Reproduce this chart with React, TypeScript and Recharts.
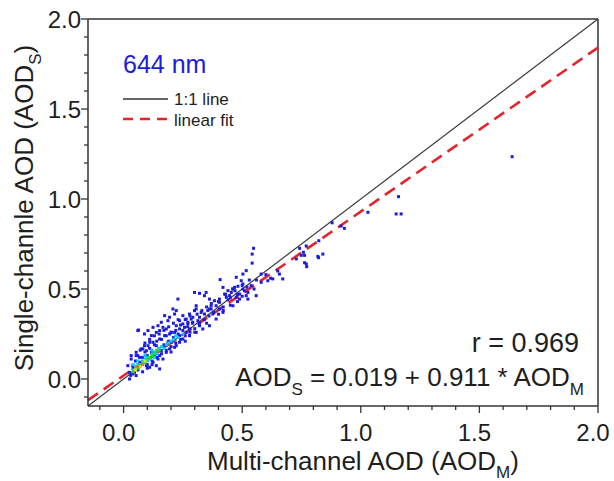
import { ScatterChart, Scatter, XAxis, YAxis, ReferenceLine, Customized } from "recharts";

const FONT = "'Liberation Sans', Arial, sans-serif";
const INK = "#1e1e1e";
const AXIS = "#333";
const BLUE = "#1c1cdc";
const RED = "#e5232c";

const domainMin = -0.15;
const domainMax = 2.0;
const axisTicks = [
  -0.1, 0, 0.1, 0.2, 0.3, 0.4, 0.5, 0.6, 0.7, 0.8, 0.9, 1.0, 1.1, 1.2, 1.3, 1.4, 1.5, 1.6, 1.7, 1.8, 1.9, 2.0,
];
const majorTicks = [0, 0.5, 1.0, 1.5, 2.0];

// fit from the figure: AOD_S = 0.019 + 0.911 * AOD_M
const fitIntercept = 0.019;
const fitSlope = 0.911;
const corrR = 0.969;

// scatter points, [AOD_M, AOD_S]
const bluePoints = [
  [1.638, 1.235], [1.159, 1.013], [1.149, 0.917], [1.17, 0.917], [1.03, 0.926], [0.879, 0.868],
  [0.917, 0.85], [0.931, 0.837], [0.823, 0.768], [0.77, 0.739], [0.749, 0.687], [0.763, 0.687],
  [0.822, 0.674], [0.84, 0.694], [0.763, 0.646], [0.772, 0.624], [0.742, 0.726],
  [0.548, 0.726], [0.542, 0.694], [0.542, 0.644], [0.758, 0.704], [0.819, 0.681], [0.77, 0.639],
  [0.728, 0.667], [0.657, 0.583], [0.671, 0.556], [0.629, 0.556], [0.608, 0.546], [0.58, 0.583],
  [0.517, 0.602], [0.503, 0.583], [0.475, 0.565], [0.496, 0.546], [0.419, 0.509], [0.44, 0.491],
  [0.461, 0.5], [0.482, 0.515], [0.503, 0.5], [0.524, 0.481], [0.447, 0.463], [0.475, 0.454],
  [0.517, 0.463], [0.538, 0.519], [0.433, 0.454], [0.489, 0.472], [0.348, 0.481], [0.341, 0.463],
  [0.32, 0.476], [0.39, 0.407], [0.369, 0.389], [0.376, 0.361], [0.404, 0.389], [0.306, 0.407],
  [0.299, 0.38], [0.278, 0.361], [0.327, 0.37], [0.292, 0.343], [0.264, 0.333], [0.236, 0.324],
  [0.25, 0.306], [0.222, 0.296], [0.299, 0.481], [0.229, 0.444], [0.208, 0.389], [0.215, 0.361],
  [0.194, 0.343], [0.173, 0.352], [0.187, 0.324], [0.159, 0.315], [0.145, 0.296], [0.166, 0.287],
  [0.18, 0.278], [0.152, 0.269], [0.124, 0.287], [0.138, 0.259], [0.117, 0.241], [0.103, 0.269],
  [0.088, 0.25], [0.06, 0.269], [0.236, 0.241], [0.264, 0.259], [0.222, 0.185], [0.18, 0.148],
  [0.152, 0.13], [0.124, 0.093], [0.278, 0.278], [0.25, 0.222], [0.201, 0.204], [0.292, 0.315],
  [0.313, 0.324], [0.039, 0.074], [0.046, 0.037], [0.053, 0.019], [0.032, 0.13], [0.053, 0.148],
  [0.067, 0.12], [0.081, 0.093], [0.096, 0.074], [0.11, 0.065], [0.025, 0.037], [0.06, 0.056],
  [0.074, 0.167], [0.096, 0.157], [0.117, 0.148], [0.131, 0.13], [0.145, 0.111], [0.159, 0.157],
  [0.173, 0.185], [0.187, 0.204], [0.138, 0.185], [0.11, 0.204], [0.088, 0.185], [0.152, 0.222],
  [0.173, 0.241], [0.194, 0.25], [0.215, 0.259], [0.236, 0.278], [0.257, 0.287], [0.271, 0.306],
  [0.285, 0.333], [0.32, 0.343], [0.341, 0.361], [0.355, 0.38], [0.369, 0.407], [0.383, 0.435],
  [0.404, 0.444], [0.426, 0.472], [0.454, 0.481], [0.468, 0.509], [0.503, 0.528], [0.306, 0.259],
  [0.334, 0.278], [0.362, 0.296], [0.236, 0.204], [0.215, 0.176], [0.278, 0.241], [0.32, 0.296],
  [0.39, 0.333], [0.419, 0.37], [0.461, 0.407], [0.489, 0.444], [0.524, 0.444], [0.559, 0.463],
  [0.58, 0.537], [0.063, 0.272], [0.222, 0.38], [0.407, 0.552], [0.362, 0.444], [0.306, 0.389],
  [0.25, 0.352], [0.025, 0.0], [0.039, 0.028], [0.018, 0.074], [0.032, 0.111], [0.053, 0.13],
  [0.081, 0.167], [0.103, 0.185], [0.124, 0.204], [0.067, 0.093], [0.096, 0.111], [0.046, 0.056],
  [0.201, 0.259], [0.271, 0.315], [0.362, 0.389], [0.404, 0.426], [0.138, 0.074], [0.166, 0.111],
  [0.194, 0.167], [0.278, 0.241], [0.152, 0.056], [0.03, 0.02], [0.04, 0.06], [0.05, 0.1],
  [0.06, 0.05], [0.06, 0.13], [0.07, 0.16], [0.08, 0.12], [0.09, 0.15], [0.09, 0.2], [0.1, 0.08],
  [0.1, 0.13], [0.11, 0.17], [0.11, 0.22], [0.12, 0.1], [0.12, 0.15], [0.13, 0.19], [0.13, 0.24],
  [0.14, 0.12], [0.14, 0.21], [0.15, 0.17], [0.15, 0.25], [0.16, 0.14], [0.16, 0.22], [0.17, 0.19],
  [0.17, 0.27], [0.18, 0.16], [0.18, 0.24], [0.19, 0.21], [0.19, 0.29], [0.2, 0.18], [0.2, 0.26],
  [0.21, 0.23], [0.21, 0.31], [0.22, 0.2], [0.22, 0.27], [0.23, 0.25], [0.23, 0.33], [0.24, 0.22],
  [0.24, 0.3], [0.25, 0.27], [0.26, 0.24], [0.26, 0.33], [0.27, 0.29], [0.28, 0.26], [0.28, 0.35],
  [0.29, 0.31], [0.3, 0.28], [0.31, 0.36], [0.32, 0.31], [0.33, 0.38], [0.34, 0.33], [0.35, 0.4],
  [0.36, 0.35], [0.37, 0.42], [0.38, 0.37], [0.4, 0.43], [0.42, 0.4], [0.43, 0.47], [0.45, 0.45],
  [0.46, 0.5], [0.48, 0.47], [0.5, 0.52], [0.51, 0.49], [0.53, 0.55],
  [0.3, 0.26], [0.35, 0.31], [0.4, 0.36], [0.45, 0.41], [0.5, 0.46], [0.55, 0.5], [0.62, 0.56],
  [0.48, 0.43], [0.42, 0.38], [0.26, 0.21], [0.2, 0.15], [0.1, 0.06], [0.08, 0.04], [0.12, 0.08],
  [0.44, 0.44], [0.47, 0.49], [0.52, 0.51], [0.56, 0.55], [0.6, 0.58], [0.65, 0.6],
];

const cyanPoints = [
  [0.04, 0.05], [0.05, 0.07], [0.06, 0.08], [0.07, 0.07], [0.08, 0.1], [0.09, 0.11], [0.1, 0.12],
  [0.11, 0.11], [0.12, 0.14], [0.13, 0.15], [0.14, 0.14], [0.15, 0.17], [0.16, 0.18], [0.18, 0.19],
  [0.19, 0.2], [0.21, 0.22], [0.23, 0.23], [0.25, 0.25], [0.06, 0.1], [0.09, 0.13], [0.12, 0.16],
  [0.04, 0.08], [0.17, 0.17], [0.2, 0.21], [0.22, 0.24], [0.13, 0.12], [0.1, 0.1],
];
const greenPoints = [
  [0.04, 0.04], [0.05, 0.06], [0.06, 0.06], [0.07, 0.08], [0.08, 0.09], [0.09, 0.09], [0.1, 0.11],
  [0.11, 0.12], [0.12, 0.13], [0.14, 0.16], [0.13, 0.14], [0.15, 0.16],
];
const yellowPoints = [[0.05, 0.05], [0.07, 0.07], [0.09, 0.1]];
const orangePoints = [[0.06, 0.07], [0.08, 0.08]];

const toXY = (pts: number[][]) => pts.map(([x, y]) => ({ x, y }));

const isMajor = (v: number) => majorTicks.some((m) => Math.abs(m - v) < 1e-6);

function square(color: string, size: number) {
  return (props: any) => (
    <rect x={props.cx - size / 2} y={props.cy - size / 2} width={size} height={size} fill={color} />
  );
}

function XTick({ x, y, payload }: any) {
  const v = payload.value as number;
  const major = isMajor(v);
  return (
    <g>
      <line x1={x} x2={x} y1={y} y2={y + (major ? 7 : 4)} stroke={AXIS} strokeWidth={1.3} />
      {major && (
        <text x={x - 5} y={y + 35} textAnchor="middle" fontSize={24} fill={INK} fontFamily={FONT}>
          {v.toFixed(1)}
        </text>
      )}
    </g>
  );
}

function YTick({ x, y, payload }: any) {
  const v = payload.value as number;
  const major = isMajor(v);
  return (
    <g>
      <line x1={x} x2={x - (major ? 7 : 4)} y1={y} y2={y} stroke={AXIS} strokeWidth={1.3} />
      {major && (
        <text x={x - 7} y={y + 8.5} textAnchor="end" fontSize={24} fill={INK} fontFamily={FONT}>
          {v.toFixed(1)}
        </text>
      )}
    </g>
  );
}

function Annotations() {
  return (
    <g fontFamily={FONT}>
      <text transform="translate(33,208) rotate(-90)" fill={INK} fontSize={26} textAnchor="middle">
        Single-channle AOD (AOD<tspan fontSize={17} dy={8}>S</tspan><tspan dy={-8}>)</tspan>
      </text>
      <text x={207} y={470} fill={INK} fontSize={26}>
        Multi-channel AOD (AOD<tspan fontSize={17} dy={8}>M</tspan><tspan dy={-8}>)</tspan>
      </text>

      <text x={123} y={73} fill={BLUE} fontSize={25}>644 nm</text>
      <line x1={123} x2={168} y1={99} y2={99} stroke={AXIS} strokeWidth={1.3} />
      <text x={174} y={105} fill={INK} fontSize={17}>1:1 line</text>
      <line x1={123} x2={168} y1={119} y2={119} stroke={RED} strokeWidth={2.6} strokeDasharray="10 7" />
      <text x={174} y={126} fill={INK} fontSize={17}>linear fit</text>

      <text x={579} y={352} fill={INK} fontSize={27} textAnchor="end">r = {corrR.toFixed(3)}</text>
      <text x={584} y={386} fill={INK} fontSize={26} textAnchor="end">
        AOD<tspan fontSize={17} dy={9}>S</tspan>
        <tspan dy={-9}>{` = ${fitIntercept.toFixed(3)} + ${fitSlope.toFixed(3)} * AOD`}</tspan>
        <tspan fontSize={17} dy={9}>M</tspan>
      </text>
    </g>
  );
}

export default function App() {
  const fitStart = { x: domainMin, y: fitIntercept + fitSlope * domainMin };
  const fitEnd = { x: domainMax, y: fitIntercept + fitSlope * domainMax };
  return (
    <div>
      <style>{`body{margin:0;background:#fff}`}</style>
      <ScatterChart width={614} height={481} margin={{ top: 19, right: 16, bottom: 0, left: 0 }}>
        <XAxis
          type="number"
          dataKey="x"
          domain={[domainMin, domainMax]}
          allowDataOverflow
          ticks={axisTicks}
          interval={0}
          tickSize={0}
          tickMargin={0}
          tickLine={false}
          tick={<XTick />}
          height={75}
          axisLine={{ stroke: AXIS, strokeWidth: 1.5 }}
        />
        <YAxis
          type="number"
          dataKey="y"
          domain={[domainMin, domainMax]}
          allowDataOverflow
          ticks={axisTicks}
          interval={0}
          tickSize={0}
          tickMargin={0}
          tickLine={false}
          tick={<YTick />}
          width={88}
          axisLine={{ stroke: AXIS, strokeWidth: 1.5 }}
        />
        <ReferenceLine y={domainMax} stroke={AXIS} strokeWidth={1.5} />
        <ReferenceLine x={domainMax} stroke={AXIS} strokeWidth={1.5} />
        <Scatter data={toXY(bluePoints)} shape={square(BLUE, 3)} isAnimationActive={false} />
        <Scatter data={toXY(cyanPoints)} shape={square("#14c8f0", 3)} isAnimationActive={false} />
        <Scatter data={toXY(greenPoints)} shape={square("#2fd03a", 3)} isAnimationActive={false} />
        <Scatter data={toXY(yellowPoints)} shape={square("#e8e020", 3)} isAnimationActive={false} />
        <Scatter data={toXY(orangePoints)} shape={square("#f07020", 3)} isAnimationActive={false} />
        <ReferenceLine
          segment={[{ x: domainMin, y: domainMin }, { x: domainMax, y: domainMax }]}
          stroke="#3a3a3a"
          strokeWidth={1.2}
        />
        <ReferenceLine
          segment={[fitStart, fitEnd]}
          stroke={RED}
          strokeWidth={2.6}
          strokeDasharray="12 7"
        />
        <Customized component={Annotations} />
      </ScatterChart>
    </div>
  );
}
